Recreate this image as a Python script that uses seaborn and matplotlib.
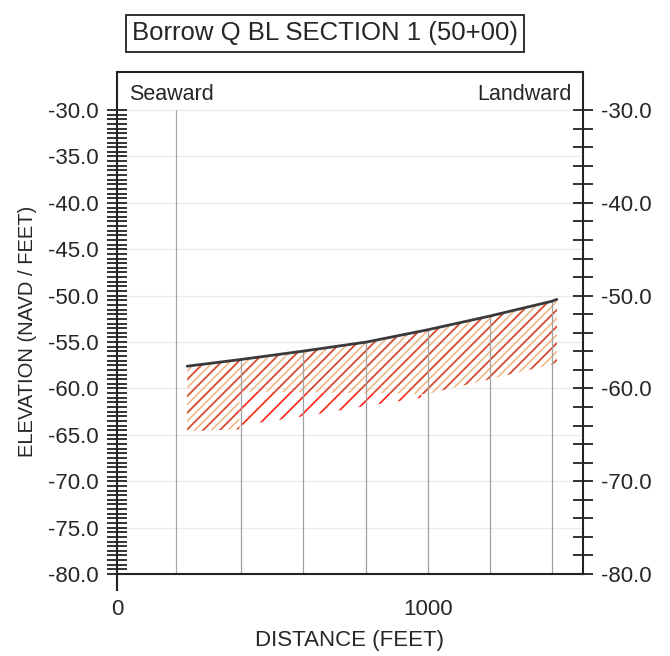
import matplotlib
matplotlib.use("Agg")
import matplotlib.pyplot as plt
from matplotlib.ticker import FixedLocator, FormatStrFormatter
import numpy as np
import pandas as pd
import seaborn as sns

# existing bottom profile (feet)
profile_x = [226, 394, 594, 803, 997, 1200, 1400, 1416]
profile_y = [-57.6, -56.9, -56.0, -55.0, -53.7, -52.2, -50.6, -50.4]

# borrow cut (orange hatch)
cut_x = [226, 394, 394, 594, 803, 997, 1200, 1400, 1416]
cut_top = [-57.6, -56.9, -56.9, -56.0, -55.0, -53.7, -52.2, -50.6, -50.4]
cut_bottom = [-64.6, -64.4, -60.3, -60.4, -60.5, -60.6, -59.0, -57.4, -57.2]

# overdepth (red hatch)
od_x = [394, 600, 800, 980]
od_top = [-60.3, -60.4, -60.5, -60.6]
od_bottom = [-64.0, -63.0, -61.9, -61.0]

station_x = [400, 600, 800, 1000, 1200, 1400]
seaward_x = 190

left_major = [-80, -75, -70, -65, -60, -55, -50, -45, -40, -35, -30]
right_major = [-80, -70, -60, -50, -40, -30]

title = "Borrow Q BL SECTION 1 (50+00)"

sns.set_style("white")
plt.rcParams['font.family'] = ['Liberation Sans', 'DejaVu Sans']
plt.rcParams['hatch.linewidth'] = 1.2

fig = plt.figure(figsize=(6.7, 6.56), dpi=100)
ax = fig.add_axes([0.1746, 0.1006, 0.6955, 0.7896])
ax.set_xlim(0, 1500)
ax.set_ylim(-81.72, -25.9)

ax.grid(axis='y', color='#ececec', lw=1.0)
ax.set_axisbelow(True)

# station lines
ax.vlines(seaward_x, -80, -30, color='#a8a8a8', lw=0.9)
ax.vlines(station_x, -80, np.interp(station_x, profile_x, profile_y),
          color='#a0a0a0', lw=0.9)

ax.fill_between(cut_x, cut_bottom, cut_top, facecolor='none',
                edgecolor='#f0b888', hatch='////', lw=0)
ax.fill_between(cut_x, cut_bottom, cut_top, facecolor='none',
                edgecolor='#d64a32', hatch='//', lw=0)
ax.fill_between(od_x, od_bottom, od_top, facecolor='none',
                edgecolor='#ff2216', hatch='//', lw=0)

df = pd.DataFrame({'x': profile_x, 'y': profile_y})
sns.lineplot(data=df, x='x', y='y', color='#3a3a3a', lw=2, ax=ax)

ax.text(38, -28.3, "Seaward", fontsize=15.5, va='center', ha='left')
ax.text(1465, -28.3, "Landward", fontsize=15.5, va='center', ha='right')

# spines
for s in ax.spines.values():
    s.set_color('#222222')
    s.set_linewidth(1.5)
ax.spines['bottom'].set_position(('data', -80))
ax.spines['right'].set_visible(False)

# left axis
ax.yaxis.set_major_locator(FixedLocator(left_major))
ax.yaxis.set_minor_locator(FixedLocator(np.arange(-80, -29.9, 0.5)))
ax.yaxis.set_major_formatter(FormatStrFormatter('%.1f'))
ax.tick_params(axis='y', which='both', direction='inout', length=14,
               width=1.3, color='#222222', labelsize=16, pad=6)

# bottom axis
ax.xaxis.set_major_locator(FixedLocator([0, 1000]))
ax.xaxis.set_minor_locator(FixedLocator([200, 400, 600, 800, 1200, 1400]))
ax.tick_params(axis='x', which='major', direction='inout', length=20,
               width=1.3, color='#222222', labelsize=16, pad=8)
ax.tick_params(axis='x', which='minor', direction='inout', length=10,
               width=1.3, color='#222222')

ax.set_xlabel("DISTANCE (FEET)", fontsize=16, labelpad=7)
ax.set_ylabel("ELEVATION (NAVD / FEET)", fontsize=14.5, labelpad=8)

# right axis
ax2 = ax.twinx()
for k in ['left', 'top', 'bottom']:
    ax2.spines[k].set_visible(False)
ax2.spines['right'].set_bounds(-80, -25.9)
ax2.spines['right'].set_color('#222222')
ax2.spines['right'].set_linewidth(1.5)
ax2.yaxis.set_major_locator(FixedLocator(right_major))
ax2.yaxis.set_minor_locator(FixedLocator(np.arange(-80, -29.9, 2)))
ax2.yaxis.set_major_formatter(FormatStrFormatter('%.1f'))
ax2.tick_params(axis='y', which='both', direction='inout', length=14,
                width=1.3, color='#222222', labelsize=16, pad=6)
ax2.set_ylim(-81.72, -25.9)

fig.text(0.485, 0.949, title, fontsize=18.5, ha='center', va='center',
         bbox=dict(facecolor='white', edgecolor='#222222', lw=1.3,
                   boxstyle='square,pad=0.25'))

fig.savefig("out.png", dpi=100)
